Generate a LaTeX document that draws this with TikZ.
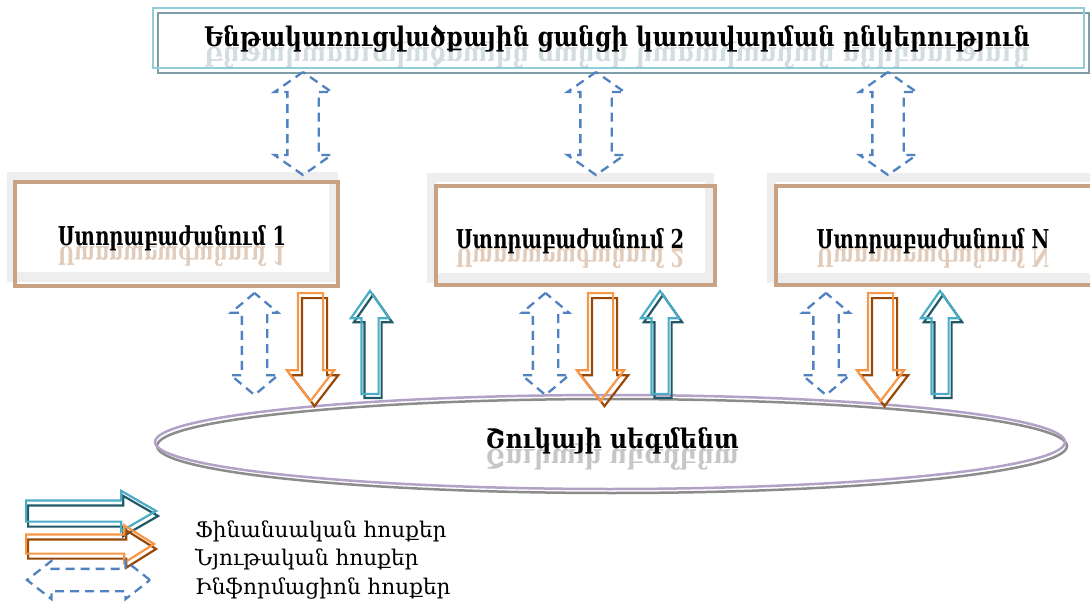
\documentclass[tikz,border=0pt]{standalone}
\usepackage{fontspec}
\setmainfont{DejaVu Serif}
\usetikzlibrary{shapes.arrows,shapes.geometric}

\definecolor{topblue}{HTML}{92CDDC}
\definecolor{topdark}{HTML}{7F9DA6}
\definecolor{boxgray}{HTML}{EEEEEE}
\definecolor{boxtan}{HTML}{C9A283}
\definecolor{infoblue}{HTML}{5081C0}
\definecolor{matlight}{HTML}{F79646}
\definecolor{matdark}{HTML}{984807}
\definecolor{finlight}{HTML}{4BACC6}
\definecolor{findark}{HTML}{215968}
\definecolor{segpurple}{HTML}{B3A2C7}
\definecolor{seggray}{HTML}{8C8C8C}

\begin{document}
\begin{tikzpicture}[x=1pt,y=-1pt,
  topframe/.style={draw, line width=2.5pt, minimum width=931pt, minimum height=60pt, outer sep=0pt},
  subframe/.style={draw=boxgray, line width=9pt, fill=white, minimum height=100pt, outer sep=0pt},
  tanline/.style={draw=boxtan, line width=4pt},
  infoarrow/.style={double arrow, draw=infoblue, line width=2.3pt, dash pattern=on 9pt off 6pt, inner xsep=0pt},
  flowarrow/.style={single arrow, line width=2.2pt, inner xsep=0pt, anchor=tail},
  bigtext/.style={font=\bfseries\fontsize{27}{31}\selectfont, anchor=base, inner sep=0pt},
  boxtext/.style={font=\bfseries\fontsize{26}{30}\selectfont, anchor=base, inner sep=0pt, xscale=.75},
  legtext/.style={font=\fontsize{21.6}{25}\selectfont, anchor=base west, inner sep=0pt}]
\useasboundingbox (0,0) rectangle (1090,604);

% company on top
\node[topframe, draw=topdark] (topsh) at (623.5,43) {};
\node[topframe, draw=topblue] (top) at (618.5,38) {};
\node[bigtext, xscale=.858, yscale=-1, text=topdark, opacity=.35] () at (617,48) {Ենթակառուցվածքային ցանցի կառավարման ընկերություն};
\node[bigtext, xscale=.858] (toptext) at (617,47) {Ենթակառուցվածքային ցանցի կառավարման ընկերություն};

% divisions
\node[subframe, minimum width=322pt] (b1) at (172,227) {};
\draw[tanline] ([shift={(4,5)}]b1.north west) rectangle ([shift={(5,9)}]b1.south east);
\node[subframe, minimum width=278pt] (b2) at (570,228) {};
\draw[tanline] ([shift={(5,8)}]b2.north west) rectangle ([shift={(6,7)}]b2.south east);
\node[subframe, minimum width=324pt] (bN) at (933,228) {};
\draw[tanline] ([shift={(5,8)}]bN.north west) rectangle ([shift={(6,7)}]bN.south east);

\node[boxtext, yscale=-1, text=boxtan, opacity=.55] () at (172,247) {Ստորաբաժանում 1};
\node[boxtext] (t1) at (172,246) {Ստորաբաժանում 1};
\node[boxtext, yscale=-1, text=boxtan, opacity=.55] () at (570,249) {Ստորաբաժանում 2};
\node[boxtext] (t2) at (570,248) {Ստորաբաժանում 2};
\node[boxtext, yscale=-1, text=boxtan, opacity=.55] () at (933,249) {Ստորաբաժանում N};
\node[boxtext] (tN) at (933,248) {Ստորաբաժանում N};

% information between top and divisions
\node[infoarrow, rotate=90, minimum height=103pt, inner ysep=14.5pt, double arrow head extend=13pt, double arrow tip angle=110] (up1) at (303,123.5) {};
\node[infoarrow, rotate=90, minimum height=103pt, inner ysep=14.5pt, double arrow head extend=13pt, double arrow tip angle=110] (up2) at (596,123.5) {};
\node[infoarrow, rotate=90, minimum height=103pt, inner ysep=14.5pt, double arrow head extend=13pt, double arrow tip angle=110] (upN) at (888,123.5) {};

% market segment
\node[ellipse, draw=seggray, line width=2.5pt, minimum width=910pt, minimum height=94pt] (segsh) at (612,446) {};
\node[ellipse, draw=segpurple, line width=2.5pt, minimum width=910pt, minimum height=94pt] (seg) at (610,442) {};
\node[bigtext, xscale=.875, yscale=-1, text=gray, opacity=.45] () at (612,449) {Շուկայի սեգմենտ};
\node[bigtext, xscale=.875] (segtext) at (612,448) {Շուկայի սեգմենտ};

% flows between divisions and segment
\node[infoarrow, rotate=90, minimum height=102pt, inner ysep=11.5pt, double arrow head extend=11pt, double arrow tip angle=100] (info1) at (254.5,344) {};
\node[flowarrow, draw=matdark, rotate=-90, minimum height=108pt, inner ysep=11.5pt, single arrow head extend=11pt, single arrow tip angle=75] (mat1d) at (314.5,297) {};
\node[flowarrow, draw=matlight, rotate=-90, minimum height=108pt, inner ysep=11.5pt, single arrow head extend=11pt, single arrow tip angle=75] (mat1) at (310.5,292) {};
\node[flowarrow, draw=findark, rotate=90, minimum height=103pt, inner ysep=7.5pt, single arrow head extend=10.5pt, single arrow tip angle=70] (fin1d) at (373,399) {};
\node[flowarrow, draw=finlight, rotate=90, minimum height=103pt, inner ysep=7.5pt, single arrow head extend=10.5pt, single arrow tip angle=70] (fin1) at (370,395) {};

\node[infoarrow, rotate=90, minimum height=102pt, inner ysep=11.5pt, double arrow head extend=11pt, double arrow tip angle=100] (info2) at (545.5,344) {};
\node[flowarrow, draw=matdark, rotate=-90, minimum height=108pt, inner ysep=11.5pt, single arrow head extend=11pt, single arrow tip angle=75] (mat2d) at (604.5,297) {};
\node[flowarrow, draw=matlight, rotate=-90, minimum height=108pt, inner ysep=11.5pt, single arrow head extend=11pt, single arrow tip angle=75] (mat2) at (600.5,292) {};
\node[flowarrow, draw=findark, rotate=90, minimum height=103pt, inner ysep=7.5pt, single arrow head extend=10.5pt, single arrow tip angle=70] (fin2d) at (663,399) {};
\node[flowarrow, draw=finlight, rotate=90, minimum height=103pt, inner ysep=7.5pt, single arrow head extend=10.5pt, single arrow tip angle=70] (fin2) at (660,395) {};

\node[infoarrow, rotate=90, minimum height=102pt, inner ysep=11.5pt, double arrow head extend=11pt, double arrow tip angle=100] (infoN) at (826,344) {};
\node[flowarrow, draw=matdark, rotate=-90, minimum height=108pt, inner ysep=11.5pt, single arrow head extend=11pt, single arrow tip angle=75] (matNd) at (884.5,297) {};
\node[flowarrow, draw=matlight, rotate=-90, minimum height=108pt, inner ysep=11.5pt, single arrow head extend=11pt, single arrow tip angle=75] (matN) at (880.5,292) {};
\node[flowarrow, draw=findark, rotate=90, minimum height=103pt, inner ysep=7.5pt, single arrow head extend=10.5pt, single arrow tip angle=70] (finNd) at (943,399) {};
\node[flowarrow, draw=finlight, rotate=90, minimum height=103pt, inner ysep=7.5pt, single arrow head extend=10.5pt, single arrow tip angle=70] (finN) at (940,395) {};

% legend
\node[flowarrow, draw=findark, minimum height=130pt, inner ysep=9.5pt, single arrow head extend=9.5pt, single arrow tip angle=60] (legfind) at (27,516) {};
\node[flowarrow, draw=finlight, minimum height=130pt, inner ysep=9.5pt, single arrow head extend=9.5pt, single arrow tip angle=60] (legfin) at (25,511) {};
\node[flowarrow, draw=matdark, minimum height=128pt, inner ysep=8.5pt, single arrow head extend=9pt, single arrow tip angle=64] (legmatd) at (27,549) {};
\node[flowarrow, draw=matlight, minimum height=128pt, inner ysep=8.5pt, single arrow head extend=9pt, single arrow tip angle=64] (legmat) at (25,544) {};
\node[infoarrow, minimum height=123pt, inner ysep=10pt, double arrow head extend=8pt, double arrow tip angle=76] (leginfo) at (88.5,580) {};
\node[legtext] (lfin) at (195,537) {Ֆինանսական հոսքեր};
\node[legtext] (lmat) at (195,565) {Նյութական հոսքեր};
\node[legtext] (linfo) at (195,594) {Ինֆորմացիոն հոսքեր};
\end{tikzpicture}
\end{document}
